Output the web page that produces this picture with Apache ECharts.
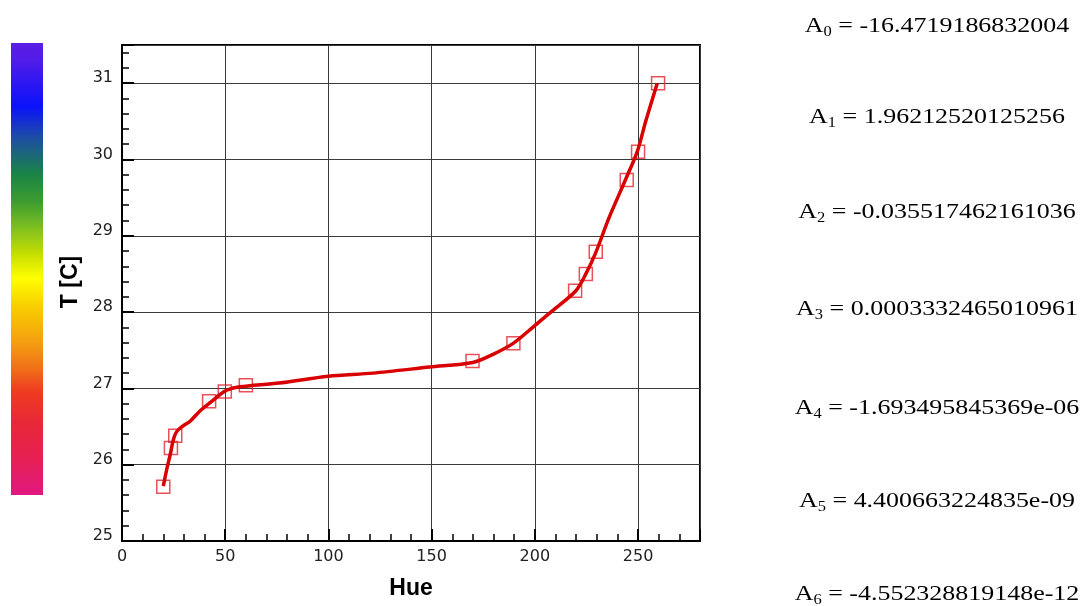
<!DOCTYPE html>
<html>
<head>
<meta charset="utf-8">
<script src="https://cdn.jsdelivr.net/npm/echarts@6/dist/echarts.min.js"></script>
<style>
  html, body { margin: 0; padding: 0; background: #fff; }
  #chart { width: 1085px; height: 606px; }
</style>
</head>
<body>
<div id="chart"></div>
<script>
// Calibration samples: hue vs. temperature
const sampleHue = [20, 23.7, 25.8, 42.2, 49.8, 60, 169.8, 189.6, 219.5, 224.7, 229.5, 244.5, 250, 259.7];
const sampleT   = [25.71, 26.22, 26.38, 26.83, 26.96, 27.04, 27.36, 27.59, 28.28, 28.50, 28.79, 29.73, 30.10, 31.00];

// Fitted calibration curve
const curveHue = [20, 21.6, 23.5, 24.8, 26.4, 29.6, 33, 38, 43, 47.5, 51, 57, 76, 100, 121.6, 149, 170, 180, 189.5, 199, 208.6, 219.9, 224.7, 229.5, 236, 244, 249.7, 253.7, 259.3];
const curveT   = [25.72, 25.93, 26.15, 26.32, 26.43, 26.51, 26.57, 26.71, 26.82, 26.92, 26.98, 27.02, 27.07, 27.16, 27.20, 27.28, 27.34, 27.45, 27.59, 27.80, 28.02, 28.28, 28.50, 28.78, 29.24, 29.74, 30.11, 30.50, 31.00];

// Axis tick labels
const xTickLabels = [0, 50, 100, 150, 200, 250];
const yTickLabels = [25, 26, 27, 28, 29, 30, 31];

// Polynomial coefficients
const coefNames  = ['0', '1', '2', '3', '4', '5', '6'];
const coefValues = ['-16.4719186832004', '1.96212520125256', '-0.035517462161036', '0.0003332465010961',
                    '-1.693495845369e-06', '4.400663224835e-09', '-4.552328819148e-12'];

const sans = 'Liberation Sans, Arial, Helvetica, sans-serif';
const tickFont = 'DejaVu Sans, Verdana, sans-serif';
const serif = 'Liberation Serif, Times New Roman, serif';

const chart = echarts.init(document.getElementById('chart'), null, { renderer: 'canvas' });

// Coefficient block on the right
const coefBaselines = [34, 125, 220, 317, 416, 509, 602];
const coefText = coefNames.map((n, i) => ({
  type: 'text',
  x: 937,
  y: coefBaselines[i] - 7.5,
  scaleX: 1.18,
  style: {
    text: '{m|A}{s|' + n + '}{m| = ' + coefValues[i] + '}',
    align: 'center',
    verticalAlign: 'middle',
    fill: '#000',
    rich: {
      m: { fontFamily: serif, fontSize: 22, lineHeight: 26, fill: '#000', verticalAlign: 'middle' },
      s: { fontFamily: serif, fontSize: 14, lineHeight: 14, fill: '#000', verticalAlign: 'bottom' }
    }
  }
}));

// Colour scale bar on the left
const colorBar = {
  type: 'rect',
  shape: { x: 11, y: 43, width: 32, height: 452 },
  style: {
    fill: {
      type: 'linear', x: 0, y: 0, x2: 0, y2: 1,
      colorStops: [
        { offset: 0.00, color: '#5c1ee4' },
        { offset: 0.04, color: '#501ce8' },
        { offset: 0.14, color: '#0a12fa' },
        { offset: 0.21, color: '#1e4ea4' },
        { offset: 0.29, color: '#1a8446' },
        { offset: 0.35, color: '#3c9c30' },
        { offset: 0.41, color: '#80c020' },
        { offset: 0.47, color: '#c8e000' },
        { offset: 0.52, color: '#ffff00' },
        { offset: 0.58, color: '#f8d000' },
        { offset: 0.66, color: '#f4a010' },
        { offset: 0.72, color: '#f07018' },
        { offset: 0.77, color: '#ee3c20' },
        { offset: 0.84, color: '#e82838' },
        { offset: 0.915, color: '#e62052' },
        { offset: 1.00, color: '#e01880' }
      ]
    }
  }
};

const majorAxisLabel = (ticks) => (v) => ticks.indexOf(Math.round(v * 1000) / 1000) >= 0 ? String(v) : '';

const option = {
  animation: false,
  backgroundColor: '#fff',
  grid: {
    left: 122, top: 45, right: 385, bottom: 65,
    show: true, borderColor: '#000', borderWidth: 2, backgroundColor: 'transparent'
  },
  xAxis: [
    {
      type: 'value', min: 0, max: 280, interval: 50, position: 'bottom',
      name: 'Hue', nameLocation: 'middle', nameGap: 36,
      nameTextStyle: { fontFamily: sans, fontWeight: 'bold', fontSize: 23, color: '#000' },
      axisLine: { show: true, onZero: false, lineStyle: { color: '#000', width: 2 } },
      axisTick: { show: true, inside: true, length: 12, lineStyle: { color: '#000', width: 2 } },
      axisLabel: { formatter: majorAxisLabel(xTickLabels), fontFamily: tickFont, fontSize: 16, color: '#222', margin: 8 },
      splitLine: { show: true, lineStyle: { color: '#3a3a3a', width: 1 } }
    },
    {
      type: 'value', min: 0, max: 280, interval: 10, position: 'bottom',
      axisLine: { show: false },
      axisTick: { show: true, inside: true, length: 7, lineStyle: { color: '#000', width: 1.5 } },
      axisLabel: { show: false },
      splitLine: { show: false }
    }
  ],
  yAxis: [
    {
      type: 'value', min: 25, max: 31.5, interval: 1, position: 'left',
      name: 'T [C]', nameLocation: 'middle', nameGap: 40,
      nameTextStyle: { fontFamily: sans, fontWeight: 'bold', fontSize: 23, color: '#000', padding: [0, 0, 0, 22] },
      axisLine: { show: true, onZero: false, lineStyle: { color: '#000', width: 2 } },
      axisTick: { show: true, inside: true, length: 12, lineStyle: { color: '#000', width: 2 } },
      axisLabel: { formatter: majorAxisLabel(yTickLabels), fontFamily: tickFont, fontSize: 16, color: '#222', margin: 9,
                   verticalAlign: 'bottom', lineHeight: 10 },
      splitLine: { show: true, lineStyle: { color: '#3a3a3a', width: 1 } }
    },
    {
      type: 'value', min: 25, max: 31.5, interval: 0.2, position: 'left',
      axisLine: { show: false },
      axisTick: { show: true, inside: true, length: 7, lineStyle: { color: '#000', width: 1.5 } },
      axisLabel: { show: false },
      splitLine: { show: false }
    }
  ],
  series: [
    {
      name: 'samples', type: 'scatter', xAxisIndex: 0, yAxisIndex: 0,
      data: sampleHue.map((h, i) => [h, sampleT[i]]),
      symbol: 'rect', symbolSize: 13,
      itemStyle: { color: 'rgba(255,255,255,0)', borderColor: '#e2262e', borderWidth: 1.5 },
      z: 3
    },
    {
      name: 'fit', type: 'line', xAxisIndex: 0, yAxisIndex: 0,
      data: curveHue.map((h, i) => [h, curveT[i]]),
      showSymbol: false, smooth: 0.3,
      lineStyle: { color: '#d80000', width: 3.5 },
      z: 4
    }
  ],
  graphic: [colorBar].concat(coefText)
};

chart.setOption(option);
</script>
</body>
</html>
